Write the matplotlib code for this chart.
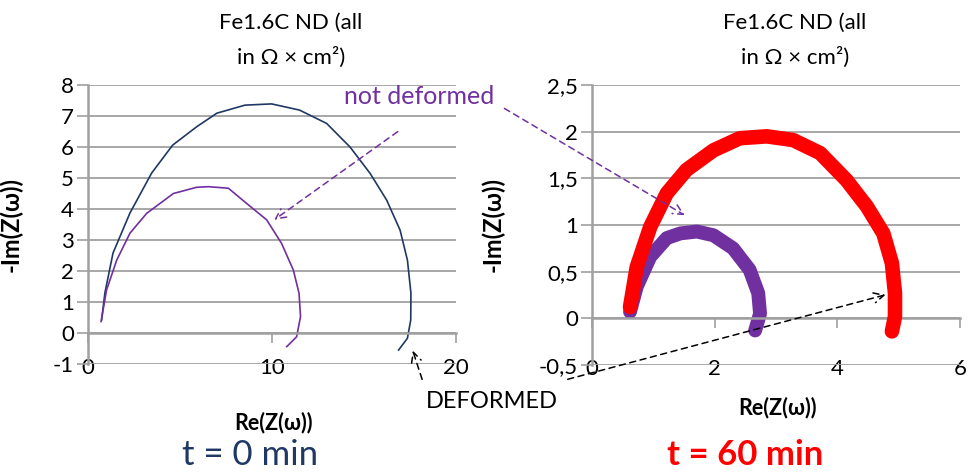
import matplotlib
matplotlib.use("Agg")
import matplotlib.pyplot as plt

plt.rcParams['font.family'] = ['Lato', 'DejaVu Sans']

# t = 0 min (left), values in Ohm*cm2
def0_re = [0.74, 0.92, 1.36, 2.28, 3.46, 4.6, 5.9, 7.0, 8.53, 9.98, 11.5, 12.97,
           14.24, 15.33, 16.23, 16.96, 17.36, 17.55, 17.54, 17.36, 16.88]
def0_im = [0.42, 1.3, 2.58, 3.87, 5.16, 6.06, 6.65, 7.09, 7.35, 7.39, 7.19, 6.76,
           6.0, 5.15, 4.29, 3.32, 2.35, 1.29, 0.42, -0.17, -0.55]
nd0_re = [0.71, 1.01, 1.56, 2.28, 3.19, 4.64, 5.9, 6.54, 7.63, 8.62, 9.71, 10.52,
          11.16, 11.47, 11.55, 11.34, 10.8]
nd0_im = [0.37, 1.39, 2.35, 3.22, 3.86, 4.5, 4.7, 4.72, 4.67, 4.18, 3.65, 2.89,
          2.03, 1.28, 0.53, -0.12, -0.44]

# t = 60 min (right)
def60_re = [0.62, 0.73, 0.95, 1.22, 1.54, 1.98, 2.41, 2.85, 3.28, 3.72, 4.15,
            4.48, 4.75, 4.89, 4.94, 4.94, 4.89]
def60_im = [0.12, 0.55, 0.98, 1.34, 1.59, 1.80, 1.93, 1.95, 1.91, 1.77, 1.48,
            1.20, 0.91, 0.59, 0.27, 0.02, -0.14]
nd60_re = [0.62, 0.73, 0.95, 1.22, 1.44, 1.71, 1.98, 2.30, 2.57, 2.71, 2.74, 2.66]
nd60_im = [0.07, 0.34, 0.66, 0.86, 0.91, 0.93, 0.89, 0.75, 0.52, 0.27, 0.05, -0.13]

left_yticks = [-1, 0, 1, 2, 3, 4, 5, 6, 7, 8]
left_ylabels = ['-1', '0', '1', '2', '3', '4', '5', '6', '7', '8']
left_xticks = [0, 10, 20]
right_yticks = [-0.5, 0, 0.5, 1, 1.5, 2, 2.5]
right_ylabels = ['-0,5', '0', '0,5', '1', '1,5', '2', '2,5']
right_xticks = [0, 2, 4, 6]

navy = '#1f3864'
purple = '#7030a0'
red = '#ff0000'
grid_c = '#a0a0a0'

W, H = 971, 474
fig = plt.figure(figsize=(W / 100, H / 100), dpi=100)


def setup(ax, xlim, ylim, yticks, ylabels, xticks, xlab_y, ylab_x):
    ax.set_xlim(*xlim)
    ax.set_ylim(*ylim)
    for s in ['top', 'right']:
        ax.spines[s].set_visible(False)
    ax.spines['left'].set_color(grid_c)
    ax.spines['left'].set_linewidth(1.8)
    ax.spines['bottom'].set_position(('data', 0))
    ax.spines['bottom'].set_color(grid_c)
    ax.spines['bottom'].set_linewidth(1.8)
    ax.set_yticks(yticks)
    ax.set_yticklabels(ylabels)
    ax.tick_params(axis='y', length=8, width=1.2, color=grid_c, labelsize=16, pad=2)
    ax.set_xticks(xticks)
    ax.tick_params(axis='x', length=7, width=1.2, color=grid_c, labelbottom=False)
    ax.grid(axis='y', color=grid_c, linewidth=1.3)
    ax.set_axisbelow(True)
    sec = ax.secondary_xaxis(0)
    sec.set_xticks(xticks)
    sec.tick_params(length=0, labelsize=16, pad=-4)
    sec.spines['bottom'].set_visible(False)
    ax.set_xlabel('Re(Z(ω))', fontsize=15.5, fontweight='bold')
    ax.xaxis.set_label_coords(0.503, xlab_y)
    ax.set_ylabel('-Im(Z(ω))', fontsize=17, fontweight='bold')
    ax.yaxis.set_label_coords(ylab_x, 0.5)


ax1 = fig.add_axes([88 / W, (H - 364) / H, 368 / W, 279 / H])
setup(ax1, (0, 20), (-1, 8), left_yticks, left_ylabels, left_xticks, -0.172, -0.177)
ax1.plot(def0_re, def0_im, color=navy, lw=1.2, clip_on=False)
ax1.plot(nd0_re, nd0_im, color=purple, lw=1.2, clip_on=False)

ax2 = fig.add_axes([592 / W, (H - 365) / H, 368 / W, 280 / H])
setup(ax2, (0, 6), (-0.5, 2.5), right_yticks, right_ylabels, right_xticks, -0.114, -0.236)
ax2.plot(def60_re, def60_im, color=red, lw=10.5, solid_capstyle='round',
         solid_joinstyle='round', clip_on=False, zorder=3)
ax2.plot(nd60_re, nd60_im, color=purple, lw=10, solid_capstyle='round',
         solid_joinstyle='round', clip_on=False, zorder=2)

# titles
for cx in (291, 795):
    fig.text(cx / W, 1 - 23 / H, 'Fe1.6C ND (all', ha='center', va='center', fontsize=16)
    fig.text(cx / W, 1 - 57 / H, 'in Ω × cm²)', ha='center', va='center', fontsize=16)

fig.text(250 / W, 1 - 455 / H, 't = 0 min', ha='center', va='center',
         fontsize=25, color=navy)
fig.text(745 / W, 1 - 455 / H, 't = 60 min', ha='center', va='center',
         fontsize=25, color=red, fontweight='bold')

# annotations
fig.text(419 / W, 1 - 97 / H, 'not deformed', ha='center', va='center',
         fontsize=18, color=purple)
fig.text(492 / W, 1 - 402 / H, 'DEFORMED', ha='center', va='center',
         fontsize=17, color='black')

ap_p = dict(arrowstyle='->', color=purple, lw=1.1, linestyle=(0, (4, 3)),
            mutation_scale=18)
ap_k = dict(arrowstyle='->', color='black', lw=1.1, linestyle=(0, (4, 3)),
            mutation_scale=18)
ax1.annotate('', xy=(10.0, 3.6), xytext=(400, H - 130), textcoords='figure pixels',
             arrowprops=ap_p, annotation_clip=False)
ax2.annotate('', xy=(1.55, 1.09), xytext=(502, H - 107), textcoords='figure pixels',
             arrowprops=ap_p, annotation_clip=False)
ax1.annotate('', xy=(17.6, -0.48), xytext=(423, H - 382), textcoords='figure pixels',
             arrowprops=ap_k, annotation_clip=False)
ax2.annotate('', xy=(4.83, 0.26), xytext=(565, H - 380), textcoords='figure pixels',
             arrowprops=ap_k, annotation_clip=False)

fig.savefig('out.png', dpi=100)
